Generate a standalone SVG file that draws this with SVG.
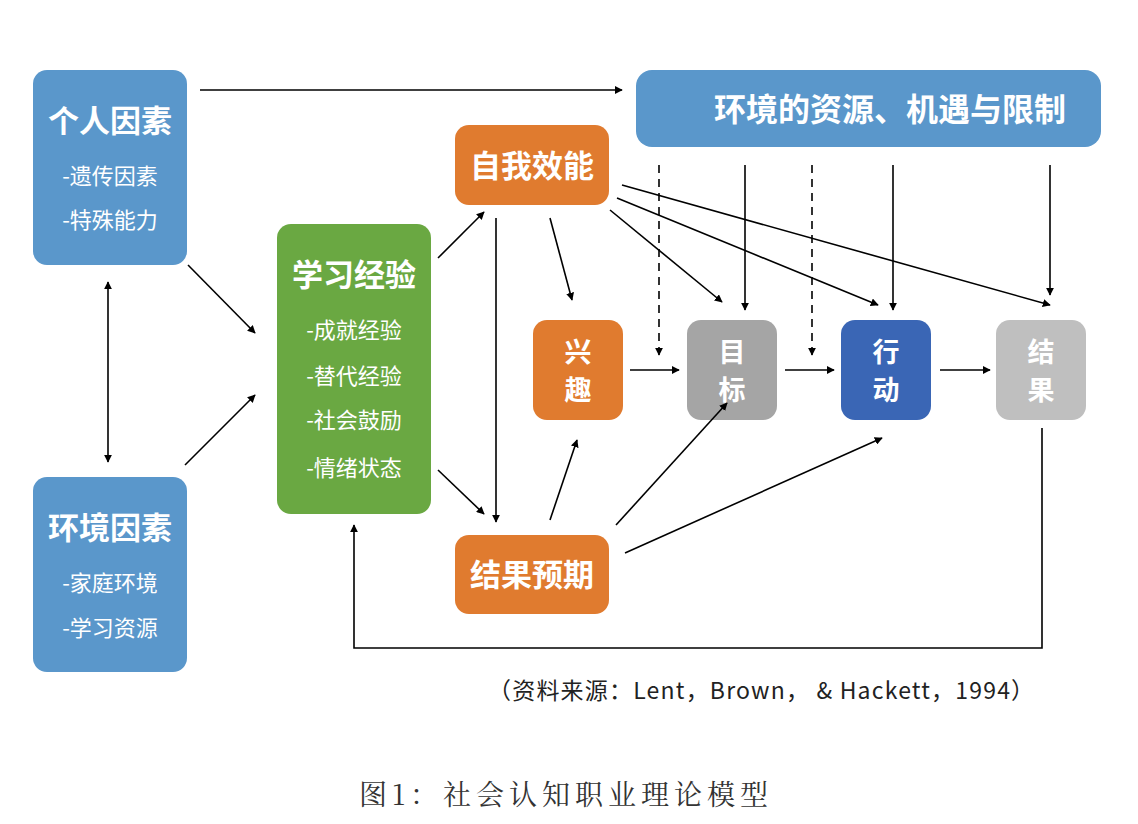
<svg xmlns="http://www.w3.org/2000/svg" width="1138" height="824" viewBox="0 0 1138 824">
<style>
.t{font-family:"Noto Sans CJK SC","Liberation Sans",sans-serif;fill:#fff;font-weight:bold;text-anchor:middle}
.s{font-family:"Noto Sans CJK SC","Liberation Sans",sans-serif;fill:#fff;font-size:22px;text-anchor:middle}
.v{font-size:27px}
.l{stroke:#000;stroke-width:1.6;fill:none;marker-end:url(#a)}
.d{stroke-dasharray:8 6}
</style>
<defs>
<marker id="a" viewBox="0 0 10 10" refX="9" refY="5" markerWidth="8" markerHeight="8" markerUnits="userSpaceOnUse" orient="auto-start-reverse"><path d="M0,0 L10,5 L0,10 z" fill="#000"/></marker>
</defs>
<rect width="1138" height="824" fill="#fff"/>
<g id="n1"><rect x="33" y="70" width="154" height="195" rx="14" fill="#5a97cb"/><text class="t" x="110" y="132" font-size="31">个人因素</text><text class="s" x="110" y="184">-遗传因素</text><text class="s" x="110" y="228">-特殊能力</text></g>
<g id="n2"><rect x="33" y="477" width="154" height="195" rx="14" fill="#5a97cb"/><text class="t" x="110" y="539" font-size="31">环境因素</text><text class="s" x="110" y="591">-家庭环境</text><text class="s" x="110" y="636">-学习资源</text></g>
<g id="n3"><rect x="277" y="224" width="154" height="290" rx="14" fill="#6aa842"/><text class="t" x="354" y="286" font-size="31">学习经验</text><text class="s" x="354" y="338">-成就经验</text><text class="s" x="354" y="384">-替代经验</text><text class="s" x="354" y="428">-社会鼓励</text><text class="s" x="354" y="476">-情绪状态</text></g>
<g id="n4"><rect x="636" y="70" width="465" height="77" rx="16" fill="#5a97cb"/><text class="t" x="890" y="121" font-size="32">环境的资源、机遇与限制</text></g>
<g id="n5"><rect x="455" y="125" width="154" height="80" rx="14" fill="#e07b2f"/><text class="t" x="532" y="177" font-size="31">自我效能</text></g>
<g id="n6"><rect x="455" y="535" width="154" height="79" rx="14" fill="#e07b2f"/><text class="t" x="532" y="586" font-size="31">结果预期</text></g>
<g id="n7"><rect x="533" y="320" width="90" height="100" rx="14" fill="#e07b2f"/><text class="t v" x="578" y="362">兴</text><text class="t v" x="578" y="400">趣</text></g>
<g id="n8"><rect x="687" y="320" width="90" height="100" rx="14" fill="#a5a5a5"/><text class="t v" x="732" y="362">目</text><text class="t v" x="732" y="400">标</text></g>
<g id="n9"><rect x="841" y="320" width="90" height="100" rx="14" fill="#3a66b5"/><text class="t v" x="886" y="362">行</text><text class="t v" x="886" y="400">动</text></g>
<g id="n10"><rect x="996" y="320" width="90" height="100" rx="14" fill="#bfbfbf"/><text class="t v" x="1041" y="362">结</text><text class="t v" x="1041" y="400">果</text></g>
<g id="edges">
<path class="l" d="M200,90 L622,90"/>
<path class="l" d="M108,282 L108,462" marker-start="url(#a)"/>
<path class="l" d="M188,265 L255,333"/>
<path class="l" d="M185,465 L255,395"/>
<path class="l" d="M438,258 L484,212"/>
<path class="l" d="M438,470 L484,514"/>
<path class="l" d="M496,218 L496,522"/>
<path class="l" d="M550,218 L572,300"/>
<path class="l" d="M550,520 L577,440"/>
<path class="l" d="M616,525 L727,403"/>
<path class="l" d="M625,553 L882,438"/>
<path class="l" d="M610,210 L722,302"/>
<path class="l" d="M617,198 L878,305"/>
<path class="l" d="M622,185 L1050,305"/>
<path class="l d" d="M659,165 L659,355"/>
<path class="l d" d="M812,165 L812,355"/>
<path class="l" d="M745,165 L745,310"/>
<path class="l" d="M893,165 L893,310"/>
<path class="l" d="M1050,165 L1050,295"/>
<path class="l" d="M630,370 L679,370"/>
<path class="l" d="M785,370 L834,370"/>
<path class="l" d="M940,370 L990,370"/>
<path class="l" d="M1042,428 L1042,648 L354,648 L354,525"/>
</g>
<text x="488" y="699" font-family="Noto Sans CJK SC,Liberation Sans,sans-serif" font-size="23" fill="#222" letter-spacing="1.2">（资料来源：Lent，Brown，  &amp; Hackett，1994）</text>
<text x="566" y="805" font-family="Noto Serif CJK SC,Liberation Serif,Noto Sans CJK SC,serif" font-size="28" fill="#333" text-anchor="middle" letter-spacing="5">图1：社会认知职业理论模型</text>
</svg>
